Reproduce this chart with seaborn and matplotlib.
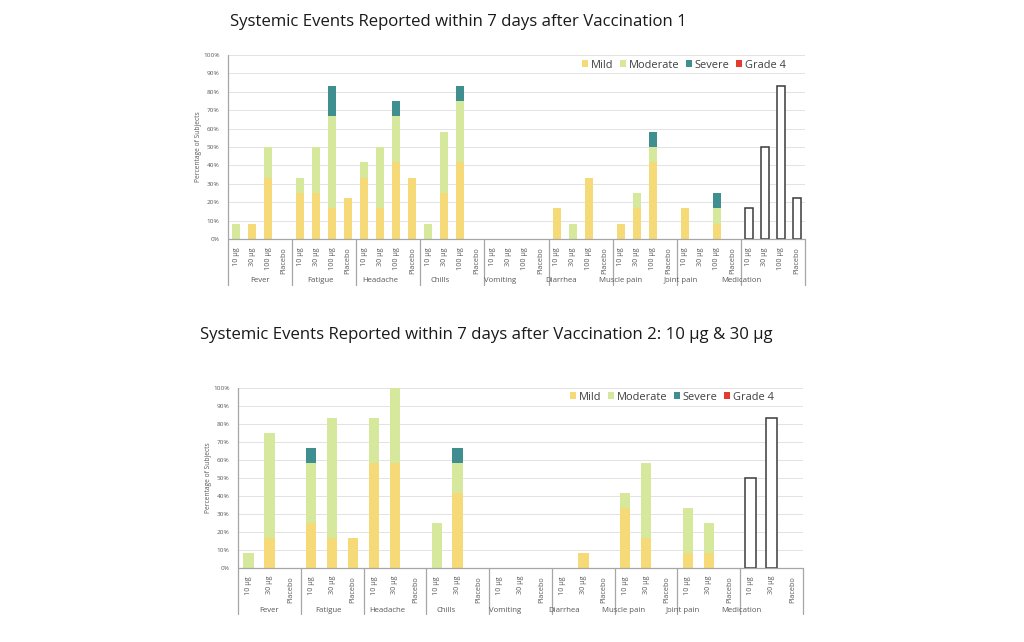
import matplotlib
matplotlib.use("Agg")
import matplotlib.pyplot as plt
import matplotlib.transforms as mtransforms
from matplotlib.patches import Patch
import pandas as pd
import seaborn as sns

sns.set_theme(style="white")
plt.rcParams['font.family'] = ['Open Sans', 'DejaVu Sans']

# ---------------- data ----------------
events = ["Fever", "Fatigue", "Headache", "Chills", "Vomiting",
          "Diarrhea", "Muscle pain", "Joint pain"]
medication_label = "Medication"

groups1 = ["10 µg", "30 µg", "100 µg", "Placebo"]
mild1 = [0, 8.3, 33.3, 0,  25, 25, 16.7, 22.2,  33.3, 16.7, 41.7, 33.3,
         0, 25, 41.7, 0,  0, 0, 0, 0,  16.7, 0, 33.3, 0,
         8.3, 16.7, 41.7, 0,  16.7, 0, 8.3, 0]
moderate1 = [8.3, 0, 16.7, 0,  8.3, 25, 50, 0,  8.3, 33.3, 25, 0,
             8.3, 33.3, 33.3, 0,  0, 0, 0, 0,  0, 8.3, 0, 0,
             0, 8.3, 8.3, 0,  0, 0, 8.3, 0]
severe1 = [0, 0, 0, 0,  0, 0, 16.7, 0,  0, 0, 8.3, 0,
           0, 0, 8.3, 0,  0, 0, 0, 0,  0, 0, 0, 0,
           0, 0, 8.3, 0,  0, 0, 8.3, 0]
medication1 = [16.7, 50, 83.3, 22.2]

groups2 = ["10 µg", "30 µg", "Placebo"]
mild2 = [0, 16.7, 0,  25, 16.7, 16.7,  58.3, 58.3, 0,  0, 41.7, 0,
         0, 0, 0,  0, 8.3, 0,  33.3, 16.7, 0,  8.3, 8.3, 0]
moderate2 = [8.3, 58.3, 0,  33.3, 66.7, 0,  25, 41.7, 0,  25, 16.7, 0,
             0, 0, 0,  0, 0, 0,  8.3, 41.7, 0,  25, 16.7, 0]
severe2 = [0, 0, 0,  8.3, 0, 0,  0, 0, 0,  0, 8.3, 0,
           0, 0, 0,  0, 0, 0,  0, 0, 0,  0, 0, 0]
medication2 = [50, 83.3, 0]

severity_names = ["Mild", "Moderate", "Severe", "Grade 4"]
severity_colors = ["#F6DA78", "#D5E89C", "#3F8F91", "#E33B30"]

title1 = "Systemic Events Reported within 7 days after Vaccination 1"
title2 = "Systemic Events Reported within 7 days after Vaccination 2: 10 µg & 30 µg"

GRAY = "#A6A6A6"
TXT = "#595959"

W, H = 1024, 642
fig = plt.figure(figsize=(W / 100, H / 100), dpi=100)


def px_axes(left, top0, right, bottom0):
    return fig.add_axes([left / W, 1 - bottom0 / H, (right - left) / W, (bottom0 - top0) / H])


def draw_chart(ax, groups, mild, moderate, severe, medication, label_step, cat_depth_px, ax_h_px):
    all_events = events + [medication_label]
    k = len(groups)
    slots = [f"{e}|{g}" for e in all_events for g in groups]
    rows = []
    i = 0
    for e in events:
        for g in groups:
            rows.append(dict(slot=f"{e}|{g}", mild=mild[i],
                             moder=mild[i] + moderate[i],
                             sev=mild[i] + moderate[i] + severe[i]))
            i += 1
    df = pd.DataFrame(rows)
    med = pd.DataFrame(dict(slot=[f"{medication_label}|{g}" for g in groups],
                            val=medication))
    med = med[med["val"] > 0]

    common = dict(x="slot", order=slots, width=0.5, errorbar=None,
                  saturation=1, linewidth=0, ax=ax, zorder=3)
    sns.barplot(data=df[df["sev"] > 0], y="sev", color=severity_colors[2], **common)
    sns.barplot(data=df[df["moder"] > 0], y="moder", color=severity_colors[1], **common)
    sns.barplot(data=df[df["mild"] > 0], y="mild", color=severity_colors[0], **common)
    common_med = dict(common)
    common_med["linewidth"] = 1.1
    sns.barplot(data=med, y="val", color="white", edgecolor="#3A3A3A", **common_med)

    n = len(slots)
    ax.set_xlim(-0.5, n - 0.5)
    ax.set_ylim(0, 100)
    ax.set_yticks(range(0, 101, 10))
    ax.set_yticklabels([f"{v}%" for v in range(0, 101, 10)], fontsize=4.6, color=TXT)
    ax.tick_params(axis="y", length=0, pad=6)
    ax.set_xticks([])
    ax.set_xlabel("")
    ax.set_ylabel("Percentage of Subjects", fontsize=4.8, color=TXT, labelpad=1)
    ax.grid(axis="y", color="#E3E3E3", linewidth=0.7, zorder=0)
    ax.set_axisbelow(True)
    for s in ax.spines.values():
        s.set_visible(False)

    depth = cat_depth_px / ax_h_px
    tr = mtransforms.blended_transform_factory(ax.transData, ax.transAxes)
    ax.plot([0, 1], [0, 0], transform=ax.transAxes, color=GRAY, lw=0.9, clip_on=False, zorder=4)
    ax.plot([0, 0], [1, -depth], transform=ax.transAxes, color=GRAY, lw=0.9, clip_on=False, zorder=4)
    for gi in range(1, len(all_events) + 1):
        x = gi * k - 0.5
        ax.plot([x, x], [0, -depth], transform=tr, color=GRAY, lw=0.9, clip_on=False)
    for j, s in enumerate(slots):
        ax.text(j, -8 / ax_h_px, s.split("|")[1], transform=tr, rotation=90,
                ha="center", va="top", fontsize=5.2, color=TXT)
    for gi, e in enumerate(all_events):
        ax.text((k - 1) / 2 + gi * label_step, -(cat_depth_px - 4) / ax_h_px, e,
                transform=tr, ha="center", va="center", fontsize=5.6, color=TXT)


# chart 1
ax1 = px_axes(228, 55, 805, 239)
draw_chart(ax1, groups1, mild1, moderate1, severe1, medication1, 3.75, 46, 184)
# chart 2
ax2 = px_axes(238, 388, 803, 568)
draw_chart(ax2, groups2, mild2, moderate2, severe2, medication2, 2.82, 46, 180)

handles = [Patch(facecolor=c, edgecolor="none") for c in severity_colors]
for ax, (xr, yc) in [(ax1, (786, 65)), (ax2, (774, 397))]:
    leg = ax.legend(handles, severity_names, loc="center right",
                    bbox_to_anchor=(xr / W, 1 - yc / H), bbox_transform=fig.transFigure,
                    ncol=4, frameon=False, fontsize=7.9, handlelength=0.6, handleheight=0.6,
                    handletextpad=0.25, columnspacing=0.55, borderpad=0, borderaxespad=0)
    for t in leg.get_texts():
        t.set_color("#404040")

fig.text(230 / W, 1 - 22 / H, title1, fontsize=12.1, ha="left", va="center", color="#1A1A1A")
fig.text(200 / W, 1 - 335 / H, title2, fontsize=12.1, ha="left", va="center", color="#1A1A1A")

fig.savefig("out.png", dpi=100, facecolor="white")
